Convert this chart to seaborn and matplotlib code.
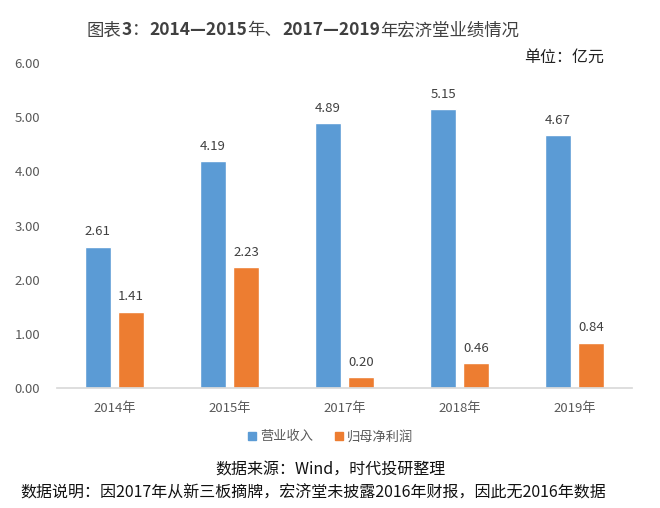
import numpy as np
import pandas as pd
import matplotlib
matplotlib.use('Agg')
import matplotlib.pyplot as plt
import seaborn as sns

# 数据
years = ['2014年', '2015年', '2017年', '2018年', '2019年']
revenue = [2.61, 4.19, 4.89, 5.15, 4.67]
net_profit = [1.41, 2.23, 0.20, 0.46, 0.84]
series_names = ['营业收入', '归母净利润']
colors = ['#5B9BD5', '#ED7D31']

df = pd.DataFrame({
    'year': years * 2,
    'value': revenue + net_profit,
    'series': [series_names[0]] * len(years) + [series_names[1]] * len(years),
})

sns.set_theme(style='white')
plt.rcParams['font.family'] = ['Noto Sans CJK SC', 'DejaVu Sans']

fig = plt.figure(figsize=(6.6, 5.08), dpi=100)
ax = fig.add_axes([0.086, 0.236, 0.872, 0.640])

sns.barplot(data=df, x='year', y='value', hue='series', palette=colors,
            width=0.575, gap=0.21, ax=ax, legend=False, saturation=1)

# 数据标签
for cont in ax.containers:
    ax.bar_label(cont, fmt='%.2f', padding=6, fontsize=9.5, color='#404040')

ax.set_ylim(0, 6)
ax.set_yticks(np.arange(0, 6.01, 1))
ax.set_yticklabels([f'{v:.2f}' for v in np.arange(0, 6.01, 1)])
ax.set_xlabel('')
ax.set_ylabel('')
ax.tick_params(axis='both', length=0, labelsize=9.5, colors='#595959')
ax.tick_params(axis='x', pad=10)
ax.tick_params(axis='y', pad=12)
for s in ['top', 'right', 'left']:
    ax.spines[s].set_visible(False)
ax.spines['bottom'].set_color('#D9D9D9')

# 图例
handles = [plt.Line2D([0], [0], marker='s', linestyle='', color=c, markersize=6)
           for c in colors]
fig.legend(handles, series_names, loc='center', bbox_to_anchor=(0.5, 0.14),
           ncol=2, frameon=False, fontsize=9.5, handlelength=0.7, handletextpad=0.25,
           columnspacing=1.6, labelcolor='#595959')

# 标题：汉字常规，数字加粗
title_parts = [('图表', 'normal'), ('3', 'bold'), ('：', 'normal'),
               ('2014—2015', 'bold'), ('年、', 'normal'), ('2017—2019', 'bold'),
               ('年宏济堂业绩情况', 'normal')]
renderer = fig.canvas.get_renderer()
x_px = 87
for txt, w in title_parts:
    t = fig.text(x_px / 660, 0.94, txt, ha='left', va='center', fontsize=12.5,
                 fontweight=w, color='#404040')
    x_px += t.get_window_extent(renderer).width

fig.text(0.855, 0.888, '单位：亿元', ha='center', va='center', fontsize=11.5, color='#222222')
fig.text(0.5, 0.075, '数据来源：Wind，时代投研整理', ha='center', va='center',
         fontsize=11.5, color='#111111')
fig.text(0.475, 0.03, '数据说明：因2017年从新三板摘牌，宏济堂未披露2016年财报，因此无2016年数据',
         ha='center', va='center', fontsize=11.5, color='#111111')

fig.savefig('out.png', dpi=100, facecolor='white')
